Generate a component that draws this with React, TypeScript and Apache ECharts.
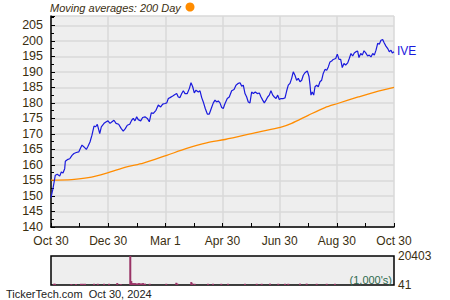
import { useEffect, useRef } from "react";
import * as echarts from "echarts";

// x values are days since Oct 30, 2023
const xTickLabels = ["Oct 30", "Dec 30", "Mar 1", "Apr 30", "Jun 30", "Aug 30", "Oct 30"];

const priceDays = [
  0, 2.1, 4.6, 6.7, 9.3, 11, 12.8, 14.6, 15.3, 17.4, 20, 22.4, 24.5, 27, 29.6, 31.3, 33.1, 35.2, 37.7, 39.5,
  41.6, 43.7, 45.9, 47.7, 49.4, 50.9, 52, 53.7, 56.6, 59, 60.8, 63, 65.1, 67.2, 69.4, 72.2, 75, 77.1, 79.3, 81.4,
  84, 86.1, 87.8, 89.6, 91.4, 93.1, 95.7, 97.8, 100.3, 102.8, 104.9, 107, 109.2, 112, 114.5, 117, 119.2, 121.6,
  123.5, 125.2, 127, 129.9, 132.3, 134.1, 135.8, 137.6, 139.5, 141.2, 143, 145.4, 147.6, 149.4, 151.2, 152.9,
  154.7, 157.2, 159, 160.8, 162.5, 164.6, 166.8, 168.9, 171, 173.2, 175, 176.8, 178.5, 180.3, 182.1, 183.8,
  185.7, 188.1, 190.2, 192.8, 195.3, 197.4, 199.9, 201.7, 203.5, 205.2, 207, 208.8, 210.5, 212.3, 214.1, 215.9,
  218, 220.1, 222.3, 224.1, 225.9, 227.6, 229.4, 231.2, 232.9, 234.7, 236.6, 238.3, 240.1, 241.9, 243.6, 245.4,
  247.9, 249.7, 251.5, 253.2, 255, 256.8, 258.5, 260.3, 262.1, 263.9, 265.7, 267.5, 269.2, 271, 273.5, 275.3,
  276.4, 277.4, 278.8, 280.3, 281.7, 283.5, 285.2, 287, 288.8, 290.5, 292.4, 294.2, 295.9, 297.7, 299.5, 301.2,
  303.8, 305.5, 307.3, 309.1, 310.8, 312.6, 314.4, 316.6, 318.3, 320.1, 321.9, 323.6, 325.4, 327.2, 328.6,
  330.5, 332.2, 334, 335.8, 337.9, 339.6, 341.4, 343.3, 345, 346.8, 348.6, 350.3, 352.1, 353.9, 355.6, 357.4,
  359.3, 361, 362.8, 364.2, 366,
];
const priceValues = [
  149.5, 152.4, 156.7, 157, 156.4, 157.7, 157.4, 158.8, 161.2, 161.7, 162, 163.1, 163.7, 164, 164.2, 165.3,
  166.4, 165.8, 165, 166, 167.4, 169.6, 172.5, 172.3, 173.1, 171.4, 170.1, 172.3, 173.4, 173.9, 174.2, 173.4,
  173.9, 174.4, 173.4, 173.1, 171.7, 170.9, 171.7, 172.8, 173.1, 174.4, 175, 174.2, 175.5, 174.6, 174.2, 175.3,
  175.5, 175, 173.9, 176.8, 176.6, 177.6, 179.3, 178.7, 179.6, 179.8, 180, 181.4, 181.7, 182.2, 182.7, 183,
  181.9, 181.7, 183, 183.9, 183, 183, 184.6, 186.5, 185.2, 183.2, 184.1, 183.5, 183.9, 181.7, 180.3, 178.2,
  176.4, 176.4, 178.2, 180, 180.9, 180.3, 180.6, 180, 178.5, 178.2, 179.8, 181.4, 181.9, 183.9, 184.3, 185.7,
  186.3, 186.5, 185.4, 185.7, 183, 181.9, 180.3, 180, 183.5, 183, 183.5, 183, 183.2, 181.9, 180.9, 180, 180.9,
  181.9, 182.5, 183.9, 182.5, 181.9, 181.4, 182.5, 181.1, 181.4, 181.4, 181.6, 183.9, 185.7, 186.3, 187.9, 190,
  188.9, 187.3, 187.9, 186.8, 187.3, 188.9, 189.7, 190.3, 188.5, 185.7, 182.5, 183.5, 182.5, 185.2, 185.7,
  185.2, 186.8, 187.3, 189.5, 190.8, 190.5, 191.6, 193.2, 193.5, 194, 194.3, 195.7, 194, 194, 191.4, 192.7,
  192.2, 192.9, 194.3, 195.9, 195.1, 196.1, 196.5, 196.7, 194.6, 195.9, 195.4, 196.8, 196.1, 195.1, 195.4,
  194.8, 195.9, 195.4, 197, 199.2, 198.9, 200.2, 200.4, 199.3, 198.3, 197.5, 196.5, 197, 196.1, 196.5,
];

const maDays = [0, 22.1, 39.8, 59.4, 80.8, 98.5, 123.5, 144.8, 166.1, 185.7, 221.2, 244.7, 256.8, 274.5, 292.4, 305.9, 327.9, 345.7, 366];
const maValues = [155.1, 155.3, 155.9, 157.4, 159.4, 160.6, 163.1, 165.3, 167.1, 168.2, 170.6, 172.1, 173.4, 176, 178.5, 179.8, 181.9, 183.5, 185];

const volDays = [
  3.2, 4.3, 21.7, 26.7, 32, 34, 36.3, 45.9, 50, 56.6, 61.9, 70.7, 74.4, 84.6, 85.7, 87.5, 89.6, 91.8, 93.9, 96,
  98.2, 100.3, 105.3, 123, 133.7, 134.8, 149.7, 150.8, 153.3, 167.5, 172.9, 181.7, 188.9, 207, 219.5, 224.8,
  233.7, 242.5, 249.7, 253.2, 265.7, 272.8, 283.5, 294.2, 303,
];
const volValues = [
  900, 900, 700, 700, 900, 900, 900, 900, 900, 900, 900, 1400, 700, 20403, 2800, 1400, 1400, 1200, 1400, 1200,
  1400, 1000, 900, 900, 1600, 1000, 2100, 1200, 900, 900, 900, 900, 900, 900, 900, 900, 1000, 900, 900, 900,
  1000, 1000, 900, 900, 900,
];
const volMin = 41;
const volMax = 20403;

const textColor = "#3a2e10";

export default function App() {
  const ref = useRef<HTMLDivElement>(null);
  useEffect(() => {
    if (!ref.current) return;
    const chart = echarts.init(ref.current, undefined, { renderer: "svg" });
    chart.setOption({
      animation: false,
      backgroundColor: "#ffffff",
      textStyle: { fontFamily: "Liberation Sans" },
      grid: [
        { left: 51, right: 56, top: 16, bottom: 73, show: true, backgroundColor: "#eeeeee", borderWidth: 0 },
        { left: 51, right: 56, top: 256, height: 29, show: true, backgroundColor: "#eeeeee", borderColor: "#000", borderWidth: 1.5 },
      ],
      xAxis: [
        {
          type: "value",
          gridIndex: 0,
          min: 0,
          max: 366,
          interval: 61,
          axisLine: { show: true, onZero: false, lineStyle: { color: "#000", width: 1.5 } },
          axisTick: { show: true, inside: true, length: 4, lineStyle: { color: "#000" } },
          minorTick: { show: true, splitNumber: 2, length: 4, lineStyle: { color: "#000" } },
          splitLine: { show: true, lineStyle: { color: "#d9d9d9", width: 1.5 } },
          axisLabel: {
            formatter: (v: number) => xTickLabels[Math.round(v / 61)] ?? "",
            color: textColor,
            fontSize: 12,
            margin: 8,
          },
        },
        { type: "value", gridIndex: 1, min: 0, max: 366, show: false },
      ],
      yAxis: [
        {
          type: "value",
          gridIndex: 0,
          min: 140,
          max: 208,
          interval: 5,
          axisLine: { show: true, onZero: false, lineStyle: { color: "#000", width: 1.5 } },
          axisTick: { show: true, inside: true, length: 4, lineStyle: { color: "#000" } },
          minorTick: { show: true, splitNumber: 2, length: 3, lineStyle: { color: "#000" } },
          splitLine: { show: true, lineStyle: { color: "#d9d9d9", width: 1.5 } },
          axisLabel: {
            formatter: (v: number) => (v % 5 === 0 ? String(v) : ""),
            color: textColor,
            fontSize: 12.5,
            margin: 8,
          },
        },
        {
          type: "value",
          gridIndex: 1,
          min: volMin,
          max: volMax,
          position: "right",
          axisLine: { show: false },
          axisTick: { show: false },
          splitLine: { show: false },
          axisLabel: {
            showMinLabel: true,
            showMaxLabel: true,
            formatter: (v: number) => (v === volMin || v === volMax ? String(v) : ""),
            color: textColor,
            fontSize: 12,
            margin: 4,
          },
        },
      ],
      series: [
        {
          type: "line",
          xAxisIndex: 0,
          yAxisIndex: 0,
          data: maDays.map((d, i) => [d, maValues[i]]),
          showSymbol: false,
          smooth: 0.3,
          lineStyle: { color: "#ff8c00", width: 1.3 },
        },
        {
          type: "line",
          xAxisIndex: 0,
          yAxisIndex: 0,
          data: priceDays.map((d, i) => [d, priceValues[i]]),
          showSymbol: false,
          lineStyle: { color: "#1a1add", width: 1.2 },
        },
        {
          type: "bar",
          xAxisIndex: 1,
          yAxisIndex: 1,
          data: volDays.map((d, i) => [d, volValues[i]]),
          barWidth: 2,
          itemStyle: { color: "#993366" },
        },
      ],
      graphic: [
        {
          type: "text",
          left: 50,
          top: 2,
          style: { text: "Moving averages: 200 Day", fontSize: 11, fontStyle: "italic", fill: textColor, fontFamily: "Liberation Sans" },
        },
        { type: "circle", shape: { cx: 190, cy: 7, r: 4.5 }, style: { fill: "#ff8c00" } },
        {
          type: "text",
          left: 397,
          top: 45,
          style: { text: "IVE", fontSize: 12, fill: "#1a1add", fontFamily: "Liberation Sans" },
        },
        {
          type: "text",
          right: 58,
          top: 274,
          style: { text: "(1,000's)", fontSize: 11, fill: "#2e6b4f", fontFamily: "Liberation Sans" },
        },
        {
          type: "text",
          left: 6,
          top: 288,
          style: { text: "TickerTech.com  Oct 30, 2024", fontSize: 11, fill: "#222", fontFamily: "Liberation Sans" },
        },
      ],
    });
    return () => chart.dispose();
  }, []);
  return <div ref={ref} style={{ position: "fixed", left: 0, top: 0, width: 450, height: 300 }} />;
}
